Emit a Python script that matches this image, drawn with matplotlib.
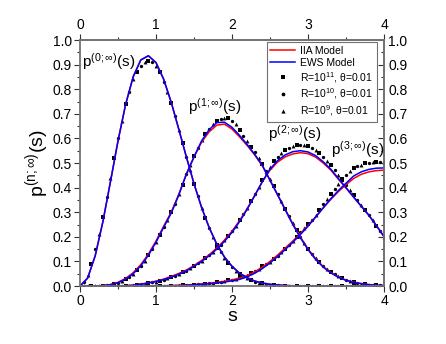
import numpy as np
import matplotlib
matplotlib.use("Agg")
import matplotlib.pyplot as plt
from matplotlib.lines import Line2D
from matplotlib.ticker import MultipleLocator, FixedLocator, FormatStrFormatter

plt.rcParams['font.family'] = ['Liberation Sans', 'DejaVu Sans']
plt.rcParams['mathtext.fontset'] = 'custom'
plt.rcParams['mathtext.rm'] = 'Liberation Sans'
plt.rcParams['mathtext.it'] = 'Liberation Sans:italic'

# model curves, read every 0.1 in s
s_model = np.round(np.arange(0, 4.001, 0.1), 2)

p0_ews = [0, 0.032, 0.123, 0.260, 0.423, 0.590, 0.738, 0.851, 0.919, 0.936, 0.908,
          0.841, 0.747, 0.637, 0.524, 0.416, 0.319, 0.237, 0.170, 0.118, 0.080,
          0.052, 0.033, 0.020, 0.012, 0.007, 0.004, 0.002, 0.001, 0.0006, 0.0003,
          0.0001, 0, 0, 0, 0, 0, 0, 0, 0, 0]
p1_ews = [0, 0, 0.0003, 0.0015, 0.005, 0.013, 0.028, 0.05, 0.082, 0.125, 0.178,
          0.238, 0.296, 0.37, 0.455, 0.525, 0.59, 0.636, 0.664, 0.666, 0.645,
          0.612, 0.575, 0.535, 0.49, 0.43, 0.37, 0.31, 0.25, 0.196, 0.148,
          0.108, 0.077, 0.053, 0.036, 0.023, 0.015, 0.009, 0.005, 0.003, 0.002]
p2_ews = [0, 0, 0, 0, 0, 0.0003, 0.001, 0.003, 0.007, 0.012, 0.018,
          0.026, 0.036, 0.048, 0.062, 0.08, 0.1, 0.123, 0.15, 0.181, 0.218,
          0.262, 0.312, 0.368, 0.425, 0.475, 0.51, 0.533, 0.546, 0.55, 0.545,
          0.53, 0.505, 0.475, 0.437, 0.40, 0.362, 0.325, 0.288, 0.245, 0.2]
p3_ews = [0, 0, 0, 0, 0, 0, 0, 0, 0, 0, 0,
          0.001, 0.001, 0.002, 0.003, 0.005, 0.007, 0.009, 0.012, 0.016, 0.021,
          0.027, 0.037, 0.052, 0.071, 0.094, 0.12, 0.148, 0.178, 0.209, 0.243,
          0.28, 0.318, 0.355, 0.388, 0.418, 0.447, 0.464, 0.474, 0.479, 0.48]

p0_iia = p0_ews
p1_iia = [0, 0, 0.0004, 0.002, 0.006, 0.015, 0.031, 0.054, 0.087, 0.130, 0.183,
          0.243, 0.300, 0.373, 0.456, 0.524, 0.585, 0.627, 0.654, 0.658, 0.638,
          0.606, 0.571, 0.532, 0.488, 0.430, 0.371, 0.312, 0.253, 0.199, 0.151,
          0.111, 0.079, 0.055, 0.037, 0.024, 0.016, 0.010, 0.006, 0.003, 0.002]
p2_iia = [0, 0, 0, 0, 0, 0.0004, 0.0013, 0.0035, 0.008, 0.013, 0.020,
          0.028, 0.039, 0.051, 0.065, 0.083, 0.104, 0.127, 0.155, 0.186, 0.223,
          0.266, 0.315, 0.369, 0.424, 0.471, 0.504, 0.525, 0.537, 0.542, 0.538,
          0.524, 0.500, 0.471, 0.434, 0.398, 0.361, 0.324, 0.288, 0.246, 0.202]
p3_iia = [0, 0, 0, 0, 0, 0, 0, 0, 0, 0, 0.0005,
          0.001, 0.002, 0.003, 0.004, 0.006, 0.008, 0.011, 0.015, 0.019, 0.025,
          0.032, 0.043, 0.058, 0.077, 0.100, 0.126, 0.154, 0.183, 0.213, 0.246,
          0.281, 0.317, 0.352, 0.384, 0.412, 0.437, 0.454, 0.464, 0.469, 0.471]

# simulation points, read every 0.05 in s
s_dots = np.round(np.arange(0, 4.001, 0.05), 2)

p0_dots = [0, 0.015, 0.045, 0.09, 0.15, 0.21, 0.28, 0.36, 0.44, 0.52,
           0.60, 0.67, 0.74, 0.79, 0.84, 0.87, 0.895, 0.91, 0.915, 0.91,
           0.895, 0.87, 0.83, 0.79, 0.745, 0.69, 0.635, 0.58, 0.525, 0.47,
           0.415, 0.365, 0.318, 0.275, 0.235, 0.20, 0.168, 0.14, 0.115, 0.095,
           0.078, 0.062, 0.05, 0.04, 0.031, 0.024, 0.018, 0.014, 0.011, 0.008,
           0.006, 0.004, 0.003, 0.002, 0.002, 0.001, 0.001, 0.001, 0, 0,
           0, 0, 0, 0, 0, 0, 0, 0, 0, 0,
           0, 0, 0, 0, 0, 0, 0, 0, 0, 0, 0]
p1_dots = [0, 0, 0, 0, 0, 0.001, 0.002, 0.003, 0.005, 0.008,
           0.013, 0.02, 0.028, 0.038, 0.05, 0.065, 0.082, 0.102, 0.125, 0.15,
           0.178, 0.207, 0.238, 0.268, 0.30, 0.335, 0.372, 0.412, 0.455, 0.49,
           0.527, 0.56, 0.592, 0.618, 0.64, 0.657, 0.672, 0.68, 0.684, 0.682,
           0.672, 0.657, 0.635, 0.61, 0.588, 0.567, 0.545, 0.52, 0.495, 0.467,
           0.437, 0.405, 0.375, 0.345, 0.315, 0.285, 0.255, 0.227, 0.20, 0.176,
           0.152, 0.132, 0.113, 0.096, 0.081, 0.068, 0.057, 0.047, 0.039, 0.032,
           0.026, 0.021, 0.017, 0.013, 0.01, 0.008, 0.006, 0.005, 0.004, 0.003, 0.002]
p2_dots = [0, 0, 0, 0, 0, 0, 0, 0, 0, 0,
           0, 0.0005, 0.001, 0.002, 0.003, 0.005, 0.007, 0.009, 0.012, 0.015,
           0.018, 0.022, 0.026, 0.031, 0.036, 0.042, 0.048, 0.055, 0.063, 0.072,
           0.082, 0.092, 0.103, 0.114, 0.126, 0.139, 0.153, 0.168, 0.185, 0.204,
           0.223, 0.244, 0.267, 0.292, 0.318, 0.346, 0.374, 0.403, 0.432, 0.46,
           0.485, 0.507, 0.525, 0.54, 0.553, 0.562, 0.569, 0.573, 0.575, 0.574,
           0.57, 0.563, 0.553, 0.54, 0.525, 0.508, 0.49, 0.47, 0.45, 0.43,
           0.41, 0.39, 0.37, 0.35, 0.33, 0.31, 0.29, 0.268, 0.245, 0.222, 0.20]
p3_dots = [0, 0, 0, 0, 0, 0, 0, 0, 0, 0,
           0, 0, 0, 0, 0, 0, 0, 0, 0, 0,
           0.0005, 0.001, 0.001, 0.0015, 0.002, 0.002, 0.003, 0.003, 0.004, 0.005,
           0.006, 0.007, 0.008, 0.01, 0.011, 0.013, 0.015, 0.017, 0.02, 0.023,
           0.026, 0.03, 0.035, 0.04, 0.046, 0.053, 0.061, 0.07, 0.08, 0.091,
           0.098, 0.11, 0.123, 0.137, 0.152, 0.168, 0.184, 0.201, 0.218, 0.234,
           0.251, 0.27, 0.29, 0.31, 0.332, 0.353, 0.374, 0.395, 0.415, 0.434,
           0.452, 0.468, 0.478, 0.487, 0.493, 0.498, 0.501, 0.503, 0.505, 0.506, 0.506]

legend_labels = ['IIA Model', 'EWS Model',
                 r'R=10$^{11}$, θ=0.01', r'R=10$^{10}$, θ=0.01', r'R=10$^{9}$, θ=0.01']
curve_labels = [r'$\mathregular{p^{(0;\infty)}(s)}$', r'$\mathregular{p^{(1;\infty)}(s)}$',
                r'$\mathregular{p^{(2;\infty)}(s)}$', r'$\mathregular{p^{(3;\infty)}(s)}$']
x_ticks = [0, 1, 2, 3, 4]
y_ticks = [0.0, 0.1, 0.2, 0.3, 0.4, 0.5, 0.6, 0.7, 0.8, 0.9, 1.0]

fig = plt.figure(figsize=(4.46, 3.44), dpi=100)
ax = fig.add_axes([0.1794, 0.1686, 0.6816, 0.7151])

# simulation points: the three R sets interleave along s
markers = ['s', 'o', '^']
sizes = [2.2, 2.4, 2.8]
for dots in [p0_dots, p1_dots, p2_dots, p3_dots]:
    dots = np.array(dots)
    for k in range(3):
        ax.plot(s_dots[k::3], dots[k::3], linestyle='none', marker=markers[k],
                ms=sizes[k], color='black', mew=0)

for c in [p0_iia, p1_iia, p2_iia, p3_iia]:
    ax.plot(s_model, c, color='#ff0000', lw=1.1)
for c in [p0_ews, p1_ews, p2_ews, p3_ews]:
    ax.plot(s_model, c, color='#0000ff', lw=1.1)

ax.set_xlim(0, 4)
ax.set_ylim(0, 1.0)

grey = '0.45'
for sp in ax.spines.values():
    sp.set_color(grey)
    sp.set_linewidth(1.3)


def style_ticks(a, direction, pad):
    a.tick_params(which='both', direction=direction, color='0.2', labelsize=10, pad=pad)
    a.tick_params(which='major', length=4, width=0.8)
    a.tick_params(which='minor', length=2, width=0.8)


ax.xaxis.set_major_locator(FixedLocator(x_ticks))
ax.xaxis.set_minor_locator(MultipleLocator(0.5))
ax.yaxis.set_major_locator(FixedLocator(y_ticks))
ax.yaxis.set_minor_locator(MultipleLocator(0.05))
ax.yaxis.set_major_formatter(FormatStrFormatter('%.1f'))
style_ticks(ax, 'out', 2)

top = ax.secondary_xaxis('top')
top.xaxis.set_major_locator(FixedLocator(x_ticks))
top.xaxis.set_minor_locator(MultipleLocator(0.5))
style_ticks(top, 'out', 2)
top.spines['top'].set_color(grey)
top.spines['top'].set_linewidth(1.3)

right = ax.secondary_yaxis('right')
right.yaxis.set_major_locator(FixedLocator(y_ticks))
right.yaxis.set_minor_locator(MultipleLocator(0.05))
right.yaxis.set_major_formatter(FormatStrFormatter('%.1f'))
style_ticks(right, 'in', 3)
right.spines['right'].set_color(grey)
right.spines['right'].set_linewidth(1.3)

ax.set_xlabel('s', fontsize=14, labelpad=0)
ax.set_ylabel(r'$\mathregular{p^{(n;\infty)}(s)}$', fontsize=14, labelpad=1)

# curve names
ax.text(0.02, 0.912, curve_labels[0], fontsize=11, ha='left', va='center')
ax.text(1.42, 0.728, curve_labels[1], fontsize=11, ha='left', va='center')
ax.text(2.47, 0.618, curve_labels[2], fontsize=11, ha='left', va='center')
ax.text(3.3, 0.555, curve_labels[3], fontsize=11, ha='left', va='center')

handles = [Line2D([], [], color='#ff0000', lw=1.1),
           Line2D([], [], color='#0000ff', lw=1.1),
           Line2D([], [], ls='none', marker='s', ms=2.5, color='black', mew=0),
           Line2D([], [], ls='none', marker='o', ms=2.7, color='black', mew=0),
           Line2D([], [], ls='none', marker='^', ms=3.0, color='black', mew=0)]
leg = ax.legend(handles, legend_labels, loc='upper right', bbox_to_anchor=(0.977, 0.992),
                fontsize=7.5, frameon=True, fancybox=False, handlelength=2.4,
                handletextpad=0.5, labelspacing=0.2, borderpad=0.35, borderaxespad=0)
leg.get_frame().set_edgecolor('0.3')
leg.get_frame().set_linewidth(0.8)

fig.savefig('out.png', dpi=100)
